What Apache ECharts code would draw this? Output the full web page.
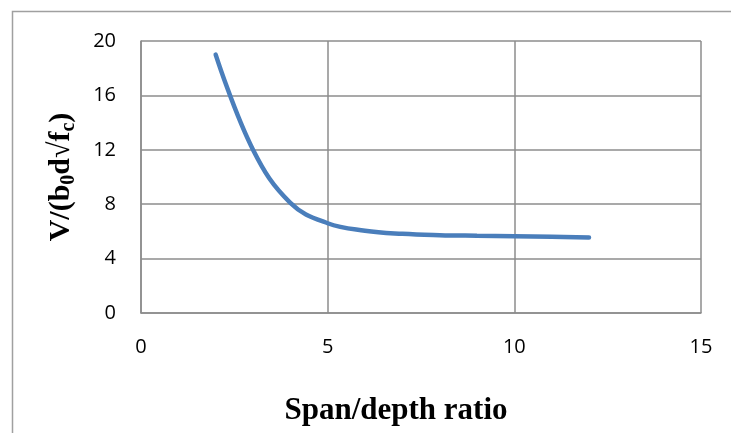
<!DOCTYPE html>
<html>
<head>
<meta charset="utf-8">
<script src="https://cdn.jsdelivr.net/npm/echarts@6/dist/echarts.min.js"></script>
<style>
  html, body { margin: 0; padding: 0; background: #fff; }
  #chart { width: 731px; height: 433px; }
</style>
</head>
<body>
<div id="chart"></div>
<script>
// Span/depth ratio (x) against normalised shear strength (y)
const spanDepth = [2, 3, 4, 5, 6, 7, 8, 9, 10, 11, 12];
const shearRatio = [19.0, 12.0, 8.1, 6.6, 6.05, 5.82, 5.72, 5.68, 5.65, 5.6, 5.55];
const xTicks = [0, 5, 10, 15];
const yTicks = [0, 4, 8, 12, 16, 20];

const chart = echarts.init(document.getElementById('chart'), null, { renderer: 'canvas' });
const grid = '#8c8c8c';

chart.setOption({
  animation: false,
  backgroundColor: '#ffffff',
  graphic: [{
    type: 'rect',
    shape: { x: 12.5, y: 11.5, width: 900, height: 600 },
    style: { fill: 'none', stroke: '#a0a0a0', lineWidth: 1.5 },
    silent: true
  }],
  grid: { left: 141, right: 30, top: 41, bottom: 120 },
  xAxis: {
    type: 'value',
    min: xTicks[0], max: xTicks[xTicks.length - 1], interval: 5,
    axisLine: { lineStyle: { color: grid, width: 1.5 } },
    axisTick: { show: false },
    splitLine: { lineStyle: { color: grid, width: 1.5 } },
    axisLabel: { color: '#000', fontFamily: 'Open Sans', fontSize: 20, margin: 24 },
    name: 'Span/depth ratio',
    nameLocation: 'middle',
    nameGap: 82,
    nameTextStyle: {
      color: '#000', fontFamily: 'Liberation Serif', fontWeight: 'bold', fontSize: 31,
      padding: [0, 50, 0, 0]
    }
  },
  yAxis: {
    type: 'value',
    min: yTicks[0], max: yTicks[yTicks.length - 1], interval: 4,
    axisLine: { show: true, lineStyle: { color: grid, width: 1.5 } },
    axisTick: { show: false },
    splitLine: { lineStyle: { color: grid, width: 1.5 } },
    axisLabel: { color: '#000', fontFamily: 'Open Sans', fontSize: 20, margin: 25 },
    name: '{a|V/(b}{s|0}{a|d√f}{s|c}{a|)}',
    nameLocation: 'middle',
    nameRotate: 90,
    nameGap: 63,
    nameTextStyle: {
      rich: {
        a: { color: '#000', fontFamily: 'Liberation Serif', fontWeight: 'bold', fontSize: 30, lineHeight: 34, verticalAlign: 'middle' },
        s: { color: '#000', fontFamily: 'Liberation Serif', fontWeight: 'bold', fontSize: 20, lineHeight: 34, padding: [16, 0, 0, 0], verticalAlign: 'middle' }
      }
    }
  },
  series: [{
    type: 'line',
    data: spanDepth.map((x, i) => [x, shearRatio[i]]),
    smooth: 0.4,
    showSymbol: false,
    lineStyle: { color: '#4a7ebb', width: 4.5, cap: 'round' }
  }]
});
</script>
</body>
</html>
